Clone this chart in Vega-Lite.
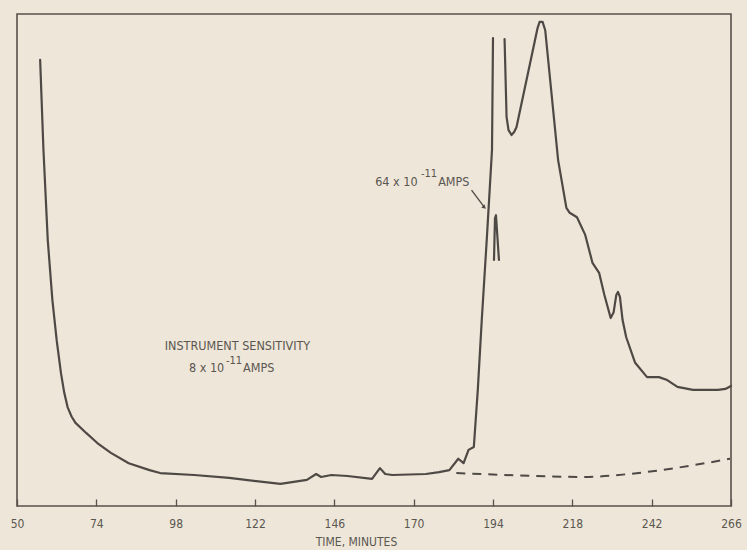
{
  "$schema": "https://vega.github.io/schema/vega-lite/v6.json",
  "autosize": "none",
  "width": 714,
  "height": 492,
  "padding": {"left": 17, "top": 14, "right": 16, "bottom": 44},
  "background": "#eee6d9",
  "config": {
    "view": {"stroke": "#57524c", "strokeWidth": 1.6},
    "font": "DejaVu Sans Condensed"
  },
  "datasets": {
    "trace": [
      {"t": 57.0, "v": 90.7, "seg": "a"},
      {"t": 58.0, "v": 72.4, "seg": "a"},
      {"t": 59.3, "v": 54.1, "seg": "a"},
      {"t": 60.7, "v": 41.9, "seg": "a"},
      {"t": 62.0, "v": 33.7, "seg": "a"},
      {"t": 63.3, "v": 27.0, "seg": "a"},
      {"t": 64.3, "v": 23.0, "seg": "a"},
      {"t": 65.3, "v": 20.1, "seg": "a"},
      {"t": 66.5, "v": 18.2, "seg": "a"},
      {"t": 67.7, "v": 16.9, "seg": "a"},
      {"t": 71.0, "v": 14.8, "seg": "a"},
      {"t": 74.3, "v": 12.8, "seg": "a"},
      {"t": 78.4, "v": 10.8, "seg": "a"},
      {"t": 83.8, "v": 8.7, "seg": "a"},
      {"t": 90.1, "v": 7.3, "seg": "a"},
      {"t": 93.3, "v": 6.7, "seg": "a"},
      {"t": 103.6, "v": 6.3, "seg": "a"},
      {"t": 114.2, "v": 5.7, "seg": "a"},
      {"t": 129.7, "v": 4.5, "seg": "a"},
      {"t": 137.7, "v": 5.3, "seg": "a"},
      {"t": 140.5, "v": 6.5, "seg": "a"},
      {"t": 142.0, "v": 5.9, "seg": "a"},
      {"t": 145.1, "v": 6.3, "seg": "a"},
      {"t": 150.0, "v": 6.1, "seg": "a"},
      {"t": 157.4, "v": 5.5, "seg": "a"},
      {"t": 159.8, "v": 7.7, "seg": "a"},
      {"t": 161.4, "v": 6.5, "seg": "a"},
      {"t": 163.5, "v": 6.3, "seg": "a"},
      {"t": 173.7, "v": 6.5, "seg": "a"},
      {"t": 177.7, "v": 6.9, "seg": "a"},
      {"t": 180.8, "v": 7.3, "seg": "a"},
      {"t": 183.5, "v": 9.6, "seg": "a"},
      {"t": 185.1, "v": 8.7, "seg": "a"},
      {"t": 186.6, "v": 11.4, "seg": "a"},
      {"t": 188.2, "v": 12.0, "seg": "a"},
      {"t": 189.4, "v": 23.6, "seg": "a"},
      {"t": 190.6, "v": 37.8, "seg": "a"},
      {"t": 192.2, "v": 55.1, "seg": "a"},
      {"t": 193.7, "v": 72.4, "seg": "a"},
      {"t": 194.0, "v": 95.1, "seg": "a"},
      {"t": 197.5, "v": 94.9, "seg": "b"},
      {"t": 198.1, "v": 79.1, "seg": "b"},
      {"t": 198.7, "v": 76.4, "seg": "b"},
      {"t": 199.6, "v": 75.4, "seg": "b"},
      {"t": 200.4, "v": 76.0, "seg": "b"},
      {"t": 201.1, "v": 77.0, "seg": "b"},
      {"t": 207.5, "v": 97.2, "seg": "b"},
      {"t": 208.1, "v": 98.4, "seg": "b"},
      {"t": 209.0, "v": 98.4, "seg": "b"},
      {"t": 209.8, "v": 96.7, "seg": "b"},
      {"t": 213.7, "v": 70.3, "seg": "b"},
      {"t": 216.2, "v": 60.6, "seg": "b"},
      {"t": 217.2, "v": 59.6, "seg": "b"},
      {"t": 219.4, "v": 58.7, "seg": "b"},
      {"t": 221.9, "v": 55.1, "seg": "b"},
      {"t": 224.1, "v": 49.4, "seg": "b"},
      {"t": 226.1, "v": 47.4, "seg": "b"},
      {"t": 227.7, "v": 42.9, "seg": "b"},
      {"t": 229.6, "v": 38.2, "seg": "b"},
      {"t": 230.5, "v": 39.4, "seg": "b"},
      {"t": 231.3, "v": 42.9, "seg": "b"},
      {"t": 231.8, "v": 43.5, "seg": "b"},
      {"t": 232.4, "v": 42.5, "seg": "b"},
      {"t": 233.2, "v": 37.8, "seg": "b"},
      {"t": 234.3, "v": 34.3, "seg": "b"},
      {"t": 237.0, "v": 29.1, "seg": "b"},
      {"t": 240.6, "v": 26.2, "seg": "b"},
      {"t": 244.2, "v": 26.2, "seg": "b"},
      {"t": 246.7, "v": 25.6, "seg": "b"},
      {"t": 249.8, "v": 24.2, "seg": "b"},
      {"t": 254.5, "v": 23.6, "seg": "b"},
      {"t": 262.1, "v": 23.6, "seg": "b"},
      {"t": 264.3, "v": 23.8, "seg": "b"},
      {"t": 266.0, "v": 24.4, "seg": "b"},
      {"t": 194.3, "v": 50.0, "seg": "c"},
      {"t": 194.6, "v": 58.5, "seg": "c"},
      {"t": 194.9, "v": 59.1, "seg": "c"},
      {"t": 195.8, "v": 50.0, "seg": "c"}
    ],
    "baseline": [
      {"t": 182.9, "v": 6.7},
      {"t": 206.9, "v": 6.1},
      {"t": 221.3, "v": 5.9},
      {"t": 235.1, "v": 6.5},
      {"t": 249.0, "v": 7.7},
      {"t": 258.2, "v": 8.7},
      {"t": 265.7, "v": 9.6}
    ]
  },
  "encoding": {
    "x": {
      "field": "t",
      "type": "quantitative",
      "scale": {"domain": [50, 266], "nice": false, "zero": false},
      "axis": {
        "title": "TIME, MINUTES",
        "values": [50, 74, 98, 122, 146, 170, 194, 218, 242, 266],
        "grid": false,
        "domain": false,
        "tickSize": -7,
        "tickColor": "#57524c",
        "tickWidth": 1.3,
        "labelFont": "DejaVu Sans Condensed",
        "labelFontSize": 12,
        "labelColor": "#5a5650",
        "labelPadding": 24,
        "labelBaseline": "middle",
        "labelFlush": false,
        "titleFont": "DejaVu Sans Condensed",
        "titleFontSize": 12,
        "titleFontWeight": "normal",
        "titleColor": "#5a5650",
        "titleX": 339,
        "titleY": 35,
        "titleBaseline": "middle"
      }
    },
    "y": {
      "field": "v",
      "type": "quantitative",
      "scale": {"domain": [0, 100], "nice": false},
      "axis": null
    }
  },
  "layer": [
    {
      "data": {"name": "baseline"},
      "mark": {"type": "line", "stroke": "#4e4944", "strokeWidth": 2, "strokeDash": [9, 7], "interpolate": "monotone"}
    },
    {
      "data": {"name": "trace"},
      "mark": {"type": "line", "stroke": "#4e4944", "strokeWidth": 2.2, "strokeJoin": "round", "strokeCap": "round"},
      "encoding": {"detail": {"field": "seg"}}
    },
    {
      "data": {"values": [{"t": 187.5, "v": 64.2, "t2": 191.3, "v2": 60.8}]},
      "mark": {"type": "rule", "stroke": "#4e4944", "strokeWidth": 1.3},
      "encoding": {
        "x2": {"field": "t2"},
        "y2": {"field": "v2"}
      }
    },
    {
      "data": {"values": [{"t": 191.4, "v": 60.7}]},
      "mark": {"type": "point", "shape": "triangle-right", "filled": true, "color": "#4e4944", "size": 22, "angle": 42, "opacity": 1}
    },
    {
      "data": {"values": [
        {"t": 116.7, "v": 32.5, "label": "INSTRUMENT SENSITIVITY"}
      ]},
      "mark": {"type": "text", "align": "center", "baseline": "middle", "fontSize": 12.5, "color": "#5a5650"},
      "encoding": {"text": {"field": "label"}}
    },
    {
      "data": {"values": [
        {"t": 112.7, "v": 28.0, "label": "8 x 10"},
        {"t": 171.2, "v": 65.8, "label": "64 x 10"}
      ]},
      "mark": {"type": "text", "align": "right", "baseline": "middle", "fontSize": 12.5, "color": "#5a5650"},
      "encoding": {"text": {"field": "label"}}
    },
    {
      "data": {"values": [
        {"t": 113.2, "v": 29.4, "label": "-11"},
        {"t": 172.2, "v": 67.5, "label": "-11"}
      ]},
      "mark": {"type": "text", "align": "left", "baseline": "middle", "fontSize": 11, "color": "#5a5650"},
      "encoding": {"text": {"field": "label"}}
    },
    {
      "data": {"values": [
        {"t": 118.4, "v": 28.0, "label": "AMPS"},
        {"t": 177.4, "v": 65.9, "label": "AMPS"}
      ]},
      "mark": {"type": "text", "align": "left", "baseline": "middle", "fontSize": 12.5, "color": "#5a5650"},
      "encoding": {"text": {"field": "label"}}
    }
  ]
}
